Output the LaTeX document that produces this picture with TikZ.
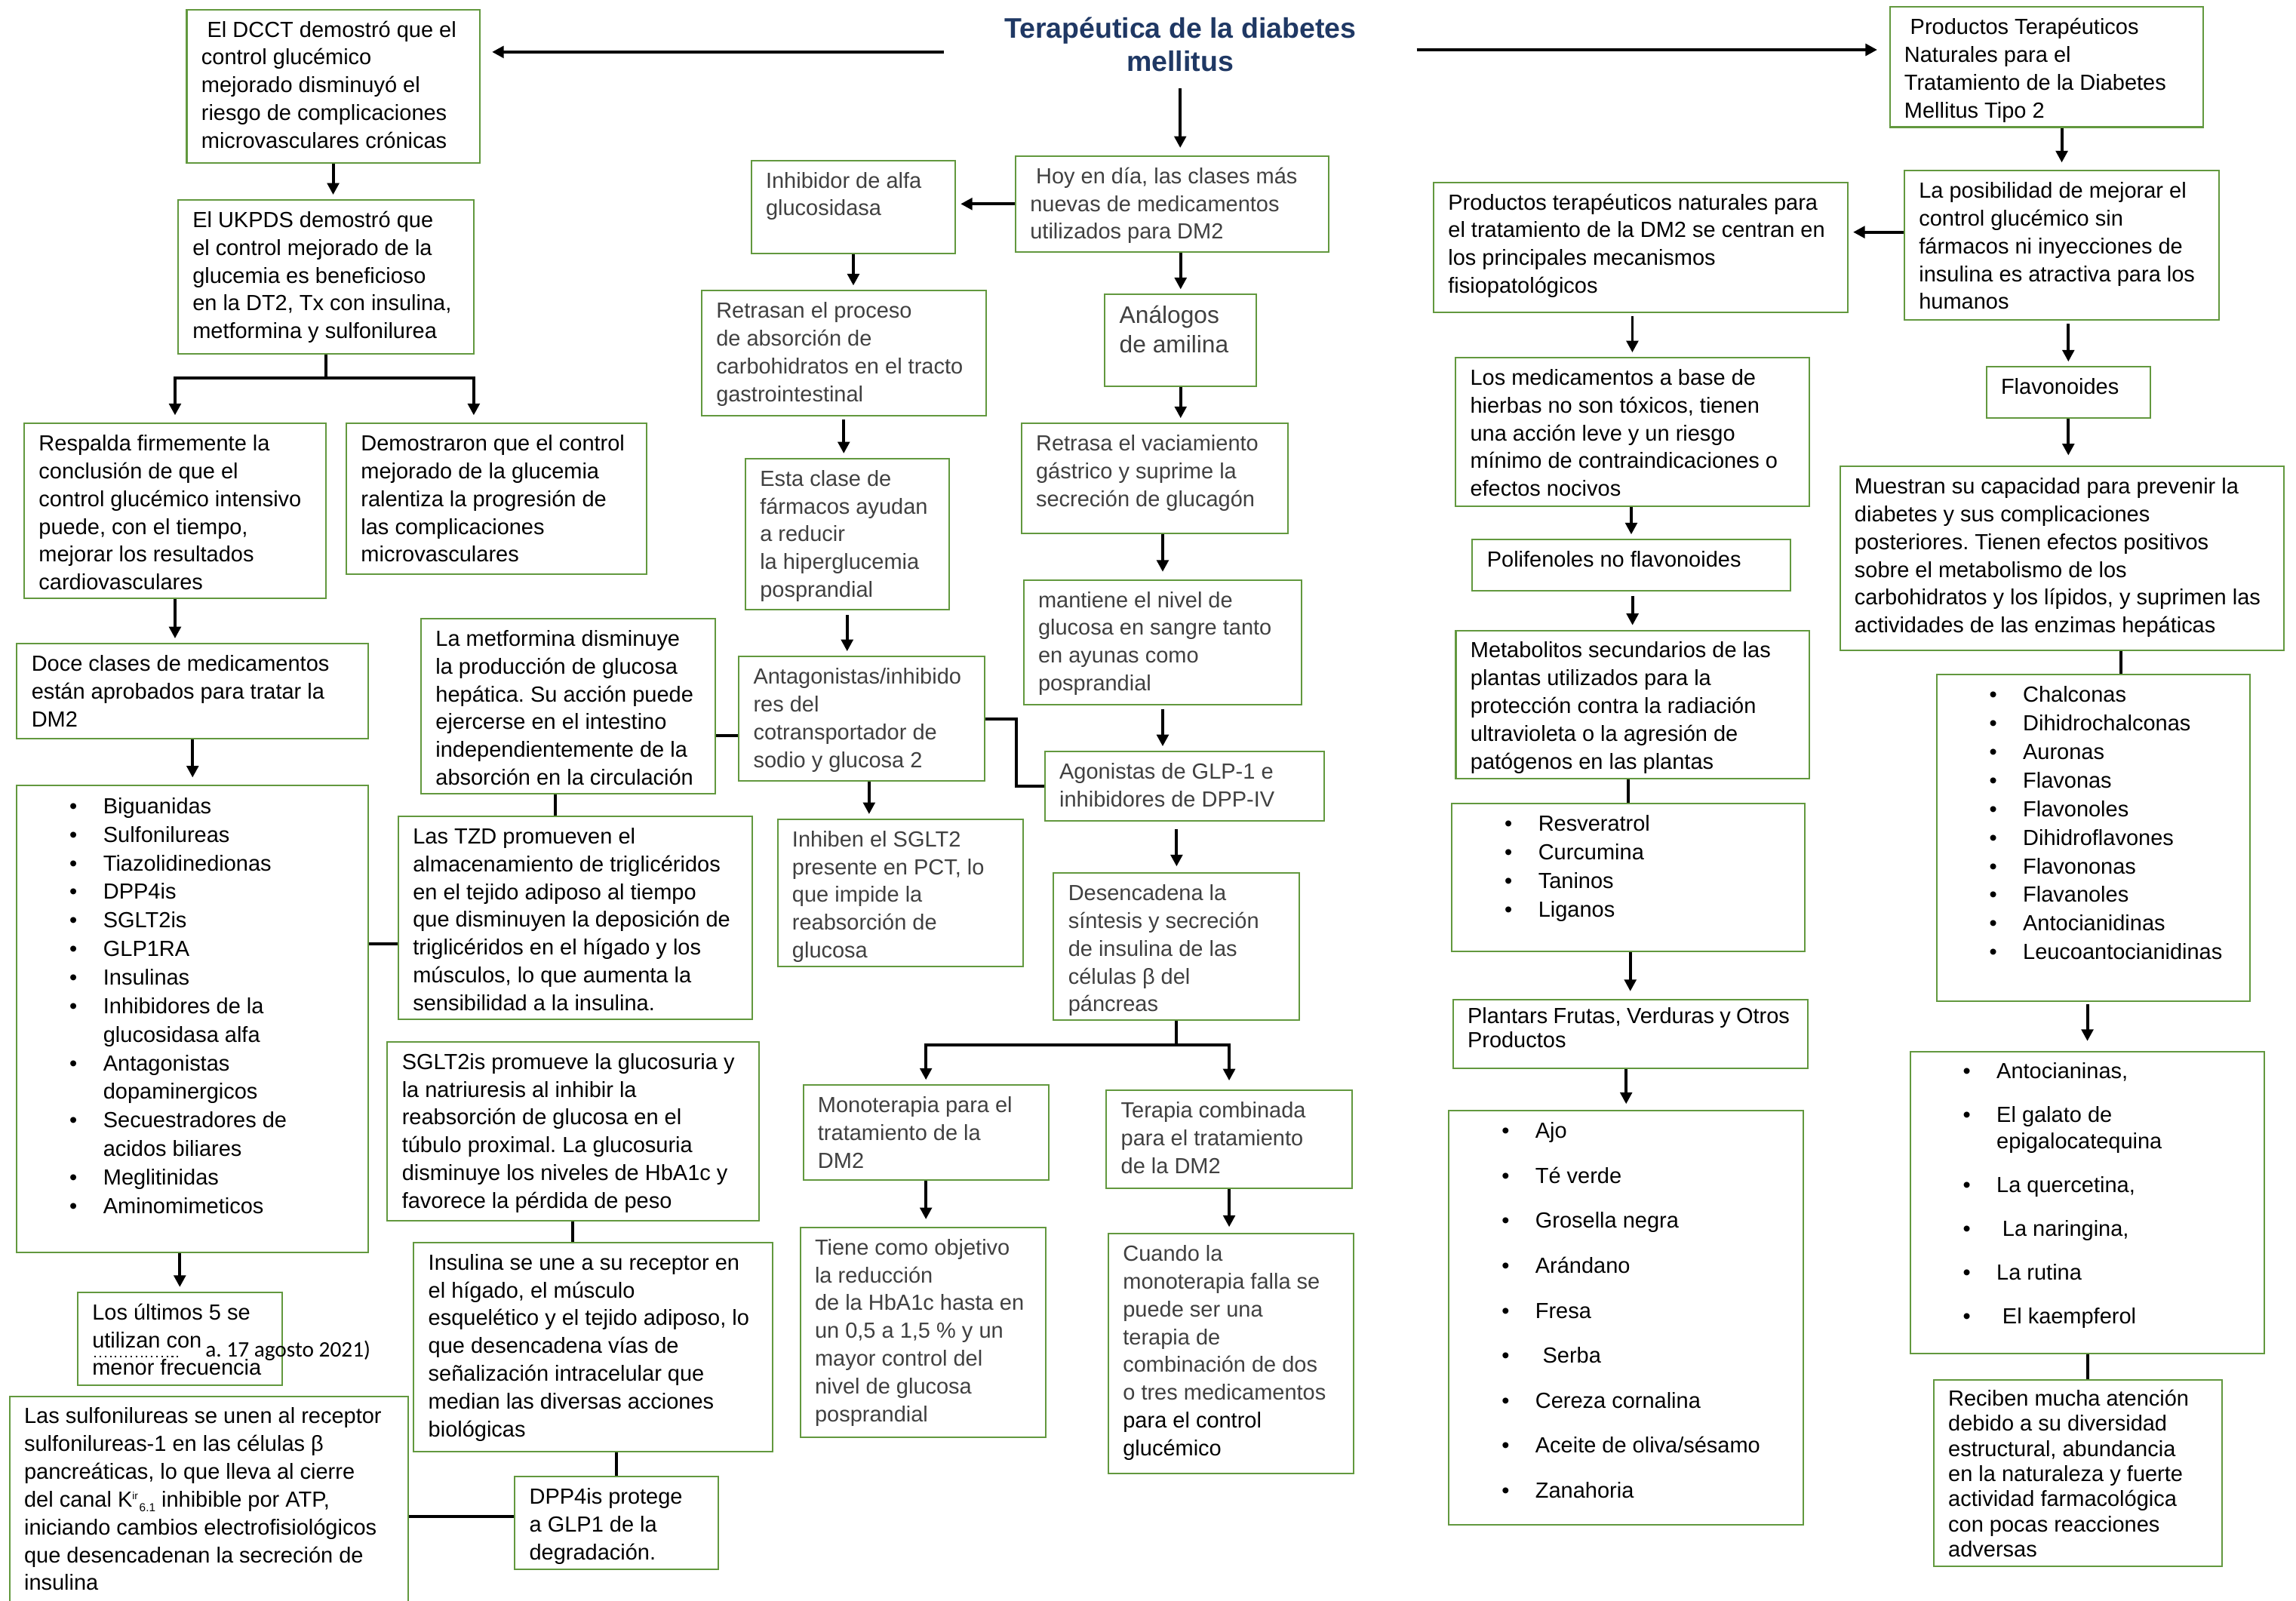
\documentclass[tikz,border=0pt]{standalone}
\usepackage{fontspec}
\setmainfont{Liberation Sans}
\newfontfamily\notefont{Carlito}
\usepackage{tikz}
\usetikzlibrary{arrows.meta}
\frenchspacing

\newlength{\pxu}
\setlength{\pxu}{0.02cm}
\definecolor{boxgreen}{RGB}{98,152,62}
\definecolor{titleblue}{RGB}{31,56,100}
\definecolor{greytext}{RGB}{64,64,64}

\newcommand{\boxtext}[3]{\parbox[t][\dimexpr#2\pxu-11\pxu\relax][t]{\dimexpr#1\pxu-20\pxu\relax}{\begin{tabular}[t]{@{}l@{}}#3\end{tabular}}}
\newcommand{\blt}{\hspace*{26\pxu}\makebox[23\pxu][l]{•}}
\newcommand{\bltcont}{\hspace*{49\pxu}}
\newcommand{\kir}{\textsuperscript{\fontsize{4}{4}\selectfont ir}\raisebox{-0.4ex}{\fontsize{4.5}{4.5}\selectfont 6.1}}

\begin{document}
\begin{tikzpicture}[x=0.02cm, y=-0.02cm,
    box/.style={draw=boxgreen, line width=0.6pt, fill=white, anchor=north west,
      inner xsep=0.2cm, inner ysep=0.11cm, font=\fontsize{8.5}{10.8}\selectfont},
    bullets/.style={box, font=\fontsize{8.5}{11.1}\selectfont},
    grey/.style={text=greytext},
    arr/.style={-{Triangle[length=0.16cm, width=0.16cm]}, line width=1.15pt, shorten >=0.06cm},
    link/.style={line width=1.15pt}]

    \fill[white] (0,0) rectangle (1568,1093);
    \useasboundingbox (0,0) rectangle (1568,1093);

    \node[font=\bfseries\fontsize{11}{13}\selectfont, text=titleblue, align=center,
      inner xsep=0.82cm] (title) at (806,30.5) {Terapéutica de la diabetes\\mellitus};



    \node[box] (dcct) at (127,6) {\boxtext{200}{105}{\hspace*{4\pxu}El DCCT demostró que el\\control glucémico\\mejorado disminuyó el\\riesgo de complicaciones\\microvasculares crónicas}};

    \node[box] (ukpds) at (121,136) {\boxtext{202}{105}{El UKPDS demostró que\\el control mejorado de la\\glucemia es beneficioso\\en la DT2, Tx con insulina,\\metformina y sulfonilurea}};

    \node[box] (respalda) at (16,288.6) {\boxtext{206}{119.4}{Respalda firmemente la\\conclusión de que el\\control glucémico intensivo\\puede, con el tiempo,\\mejorar los resultados\\cardiovasculares}};

    \node[box] (demostr) at (236,288.6) {\boxtext{205}{103}{Demostraron que el control\\mejorado de la glucemia\\ralentiza la progresión de\\las complicaciones\\microvasculares}};

    \node[box] (doce) at (11,439) {\boxtext{240}{65}{Doce clases de medicamentos\\están aprobados para tratar la\\DM2}};

    \node[bullets] (list) at (11,536) {\boxtext{240}{319}{\blt Biguanidas\\ \blt Sulfonilureas\\ \blt Tiazolidinedionas\\ \blt DPP4is\\ \blt SGLT2is\\ \blt GLP1RA\\ \blt Insulinas\\ \blt Inhibidores de la\\ \bltcont glucosidasa alfa\\ \blt Antagonistas\\ \bltcont dopaminergicos\\ \blt Secuestradores de\\ \bltcont acidos biliares\\ \blt Meglitinidas\\ \blt Aminomimeticos}};

    \node[box] (losult) at (52.5,882) {\boxtext{139.5}{63.5}{Los últimos 5 se\\utilizan con\\menor frecuencia}};

    \draw[line width=0.7pt, dash pattern=on 0.6pt off 1.4pt] (64.5,926.5) -- (122,926.5);
    \node[font=\notefont\fontsize{8.6}{10}\selectfont, anchor=base west, inner sep=0] (nota) at (140,926.5) {a. 17 agosto 2021)};

    \node[box] (sulfo) at (6,953) {\boxtext{272}{170}{Las sulfonilureas se unen al receptor\\sulfonilureas-1 en las células β\\pancreáticas, lo que lleva al cierre\\del canal K\kir{} inhibible por ATP,\\iniciando cambios electrofisiológicos\\que desencadenan la secreción de\\insulina}};



    \node[box] (metf) at (287,422) {\boxtext{201}{119.6}{La metformina disminuye\\la producción de glucosa\\hepática. Su acción puede\\ejercerse en el intestino\\independientemente de la\\absorción en la circulación}};

    \node[box] (tzd) at (271.5,557) {\boxtext{241.5}{138.6}{Las TZD promueven el\\almacenamiento de triglicéridos\\en el tejido adiposo al tiempo\\que disminuyen la deposición de\\triglicéridos en el hígado y los\\músculos, lo que aumenta la\\sensibilidad a la insulina.}};

    \node[box] (sglt) at (264,711) {\boxtext{253.6}{122}{SGLT2is promueve la glucosuria y\\la natriuresis al inhibir la\\reabsorción de glucosa en el\\túbulo proximal. La glucosuria\\disminuye los niveles de HbA1c y\\favorece la pérdida de peso}};

    \node[box] (insul) at (282,848) {\boxtext{245}{143}{Insulina se une a su receptor en\\el hígado, el músculo\\esquelético y el tejido adiposo, lo\\que desencadena vías de\\señalización intracelular que\\median las diversas acciones\\biológicas}};

    \node[box] (dpp) at (351,1008) {\boxtext{139}{63}{DPP4is protege\\a GLP1 de la\\degradación.}};



    \node[box, grey] (hoy) at (693,106) {\boxtext{214}{65.5}{\hspace*{4\pxu}Hoy en día, las clases más\\nuevas de medicamentos\\utilizados para DM2}};

    \node[box, grey] (inhib) at (512.5,109) {\boxtext{139.5}{63.5}{Inhibidor de alfa\\glucosidasa}};

    \node[box, grey] (retrasan) at (478.6,198) {\boxtext{194.2}{85.5}{Retrasan el proceso\\de absorción de\\carbohidratos en el tracto\\gastrointestinal}};

    \node[box, grey] (esta) at (508.5,312.7) {\boxtext{139}{103.3}{Esta clase de\\fármacos ayudan\\a reducir\\la hiperglucemia\\posprandial}};

    \node[box, grey] (antag) at (504,447.8) {\boxtext{168}{85.2}{Antagonistas/inhibido\\res del\\cotransportador de\\sodio y glucosa 2}};

    \node[box, grey] (inhiben) at (530.5,559) {\boxtext{167.5}{100.6}{Inhiben el SGLT2\\presente en PCT, lo\\que impide la\\reabsorción de\\glucosa}};

    \node[box, grey, font=\fontsize{9.3}{11.4}\selectfont] (anal) at (754,200.6) {\boxtext{103.5}{62.7}{Análogos\\de amilina}};

    \node[box, grey] (retrasa) at (697,288.6) {\boxtext{182}{75.4}{Retrasa el vaciamiento\\gástrico y suprime la\\secreción de glucagón}};

    \node[box, grey] (mant) at (698.5,395.5) {\boxtext{190}{85}{mantiene el nivel de\\glucosa en sangre tanto\\en ayunas como\\posprandial}};

    \node[box, grey] (agon) at (713,512.7) {\boxtext{190.6}{47.3}{Agonistas de GLP-1 e\\inhibidores de DPP-IV}};

    \node[box, grey] (desenc) at (719,595.7) {\boxtext{168}{100.3}{Desencadena la\\síntesis y secreción\\de insulina de las\\células β del\\páncreas}};

    \node[box, grey] (mono) at (548,740.5) {\boxtext{167.6}{65}{Monoterapia para el\\tratamiento de la\\DM2}};

    \node[box, grey] (terapia) at (755,744) {\boxtext{167.8}{67}{Terapia combinada\\para el tratamiento\\de la DM2}};

    \node[box, grey] (tiene) at (546,837.7) {\boxtext{167.6}{143.3}{Tiene como objetivo\\la reducción\\de la HbA1c hasta en\\un 0,5 a 1,5 \% y un\\mayor control del\\nivel de glucosa\\posprandial}};

    \node[box, grey] (cuando) at (756.4,842) {\boxtext{167.6}{163.7}{Cuando la\\monoterapia falla se\\puede ser una\\terapia de\\combinación de dos\\o tres medicamentos\\{\color{black}para el control}\\{\color{black}glucémico}}};



    \node[box] (prodtera) at (1290,4.3) {\boxtext{214}{82}{\hspace*{4\pxu}Productos Terapéuticos\\Naturales para el\\Tratamiento de la Diabetes\\Mellitus Tipo 2}};

    \node[box] (posib) at (1300,116) {\boxtext{215}{102}{La posibilidad de mejorar el\\control glucémico sin\\fármacos ni inyecciones de\\insulina es atractiva para los\\humanos}};

    \node[box] (prodnat) at (978.5,124) {\boxtext{283}{89}{Productos terapéuticos naturales para\\el tratamiento de la DM2 se centran en\\los principales mecanismos\\fisiopatológicos}};

    \node[box] (medic) at (993.5,243.7) {\boxtext{241.5}{101.3}{Los medicamentos a base de\\hierbas no son tóxicos, tienen\\una acción leve y un riesgo\\mínimo de contraindicaciones o\\efectos nocivos}};

    \node[box] (polif) at (1005,368) {\boxtext{217}{34.8}{Polifenoles no flavonoides}};

    \node[box] (metab) at (993.7,430) {\boxtext{241.3}{101}{Metabolitos secundarios de las\\plantas utilizados para la\\protección contra la radiación\\ultravioleta o la agresión de\\patógenos en las plantas}};

    \node[bullets] (resv) at (991,548) {\boxtext{241}{101}{\blt Resveratrol\\ \blt Curcumina\\ \blt Taninos\\ \blt Liganos}};

    \node[box, font=\fontsize{8.5}{9.1}\selectfont] (plantars) at (991.7,682) {\boxtext{242.3}{47}{\makebox[220\pxu][s]{Plantars Frutas, Verduras y Otros}\\Productos}};

    \node[box] (ajo) at (989,758) {\boxtext{242}{283}{\blt Ajo\\[11.75\pxu] \blt Té verde\\[11.75\pxu] \blt Grosella negra\\[11.75\pxu] \blt Arándano\\[11.75\pxu] \blt Fresa\\[11.75\pxu] \blt\hspace*{5\pxu}Serba\\[11.75\pxu] \blt Cereza cornalina\\[11.75\pxu] \blt Aceite de oliva/sésamo\\[11.75\pxu] \blt Zanahoria}};

    \node[box] (flavon) at (1356,250) {\boxtext{112}{35}{Flavonoides}};

    \node[box] (muestran) at (1256,318) {\boxtext{303}{125.5}{Muestran su capacidad para prevenir la\\diabetes y sus complicaciones\\posteriores. Tienen efectos positivos\\sobre el metabolismo de los\\carbohidratos y los lípidos, y suprimen las\\actividades de las enzimas hepáticas}};

    \node[bullets] (chalc) at (1322,460) {\boxtext{214}{223}{\blt Chalconas\\ \blt Dihidrochalconas\\ \blt Auronas\\ \blt Flavonas\\ \blt Flavonoles\\ \blt Dihidroflavones\\ \blt Flavononas\\ \blt Flavanoles\\ \blt Antocianidinas\\ \blt Leucoantocianidinas}};

    \node[box, font=\fontsize{8.5}{10.2}\selectfont] (antoc) at (1304,718) {\boxtext{242}{206}{\blt Antocianinas,\\[12\pxu] \blt El galato de\\ \bltcont epigalocatequina\\[12\pxu] \blt La quercetina,\\[12\pxu] \blt\hspace*{4\pxu}La naringina,\\[12\pxu] \blt La rutina\\[12\pxu] \blt\hspace*{4\pxu}El kaempferol}};

    \node[box, font=\fontsize{8.5}{9.8}\selectfont] (reciben) at (1320,942) {\boxtext{197}{127}{Reciben mucha atención\\debido a su diversidad\\estructural, abundancia\\en la naturaleza y fuerte\\actividad farmacológica\\con pocas reacciones\\adversas}};



    \coordinate (tl) at ([yshift=-0.1cm]title.west);
    \coordinate (tr) at ([yshift=-0.07cm]title.east);
    \draw[arr, shorten >=0.16cm] (tl) -- (tl -| dcct.east);
    \draw[arr, shorten >=0.16cm] (tr) -- (tr -| prodtera.west);
    \draw[arr, shorten <=0.1cm, shorten >=0.1cm] (title.south) -- (title.south |- hoy.north);

    \draw[arr] (dcct.south) -- (dcct.south |- ukpds.north);
    \coordinate (demtop) at ([xshift=-0.31cm]demostr.north);
    \draw[arr, shorten >=0.1cm] (ukpds.south) -- ++(0,16) -| (respalda.north);
    \draw[arr, shorten >=0.1cm] (ukpds.south) ++(0,16) -| (demtop);
    \draw[arr] (respalda.south) -- (respalda.south |- doce.north);
    \draw[arr, shorten >=0.1cm] (doce.south) -- (doce.south |- list.north);
    \draw[arr] (list.south -| losult.north) -- (losult.north);

    \coordinate (tzdl) at ([yshift=-0.354cm]tzd.west);
    \draw[link] (tzdl -| list.east) -- (tzdl);
    \coordinate (metr) at ([yshift=-0.4cm]metf.east);
    \draw[link] (metr) -- (metr -| antag.west);
    \coordinate (metb) at ([xshift=-0.18cm]metf.south);
    \draw[link] (metb) -- (metb |- tzd.north);
    \draw[link] (sglt.south) -- (sglt.south |- insul.north);
    \draw[link] (insul.south -| dpp.north) -- (dpp.north);
    \coordinate (dppl) at ([yshift=0.09cm]dpp.west);
    \draw[link] (dppl) -- (dppl -| sulfo.east);

    \draw[arr] (hoy.west) -- (hoy.west -| inhib.east);
    \draw[arr] (inhib.south) -- (inhib.south |- retrasan.north);
    \draw[arr, shorten <=0.04cm] (retrasan.south) -- (retrasan.south |- esta.north);
    \draw[arr, shorten <=0.06cm] (esta.south) -- (esta.south |- antag.north);
    \coordinate (antb) at ([xshift=0.1cm]antag.south);
    \draw[arr] (antb) -- (antb |- inhiben.north);
    \draw[link] (antag.east) -- ++(21,0) |- (agon.west);

    \draw[arr] (hoy.south -| anal.north) -- (anal.north);
    \draw[arr] (anal.south) -- (anal.south |- retrasa.north);
    \draw[arr, shorten >=0.1cm] (retrasa.south -| mant.north) -- (mant.north);
    \draw[arr, shorten <=0.06cm] (mant.south) -- (mant.south |- agon.north);
    \draw[arr, shorten <=0.1cm, shorten >=0.08cm] (agon.south -| desenc.north) -- (desenc.north);
    \draw[arr] (desenc.south) -- ++(0,16.6) -| (mono.north);
    \draw[arr, shorten >=0.12cm] (desenc.south) ++(0,16.6) -| (terapia.north);
    \draw[arr, shorten >=0.1cm] (mono.south) -- (mono.south |- tiene.north);
    \draw[arr, shorten >=0.08cm] (terapia.south) -- (terapia.south |- cuando.north);

    \draw[arr, shorten >=0.1cm] (prodtera.south -| posib.north) -- (posib.north);
    \coordinate (posl) at ([yshift=0.18cm]posib.west);
    \draw[arr] (posl) -- (posl -| prodnat.east);
    \draw[arr, shorten <=0.04cm] (prodnat.south -| medic.north) -- (medic.north);
    \draw[arr] (medic.south -| polif.north) -- (polif.north);
    \draw[arr, shorten <=0.06cm] (polif.south -| metab.north) -- (metab.north);
    \draw[link] (metab.south -| resv.north) -- (resv.north);
    \draw[arr, shorten >=0.1cm] (resv.south -| plantars.north) -- (plantars.north);
    \draw[arr, shorten >=0.08cm] (plantars.south -| ajo.north) -- (ajo.north);

    \draw[arr, shorten <=0.04cm] (posib.south -| flavon.north) -- (flavon.north);
    \draw[arr, shorten >=0.14cm] (flavon.south) -- (flavon.south |- muestran.north);
    \coordinate (chalt) at ([xshift=0.38cm]chalc.north);
    \draw[link] (chalt |- muestran.south) -- (chalt);
    \draw[arr, shorten <=0.04cm, shorten >=0.14cm] (chalc.south -| antoc.north) -- (antoc.north);
    \draw[link] (antoc.south) -- (antoc.south |- reciben.north);

  \end{tikzpicture}
\end{document}
